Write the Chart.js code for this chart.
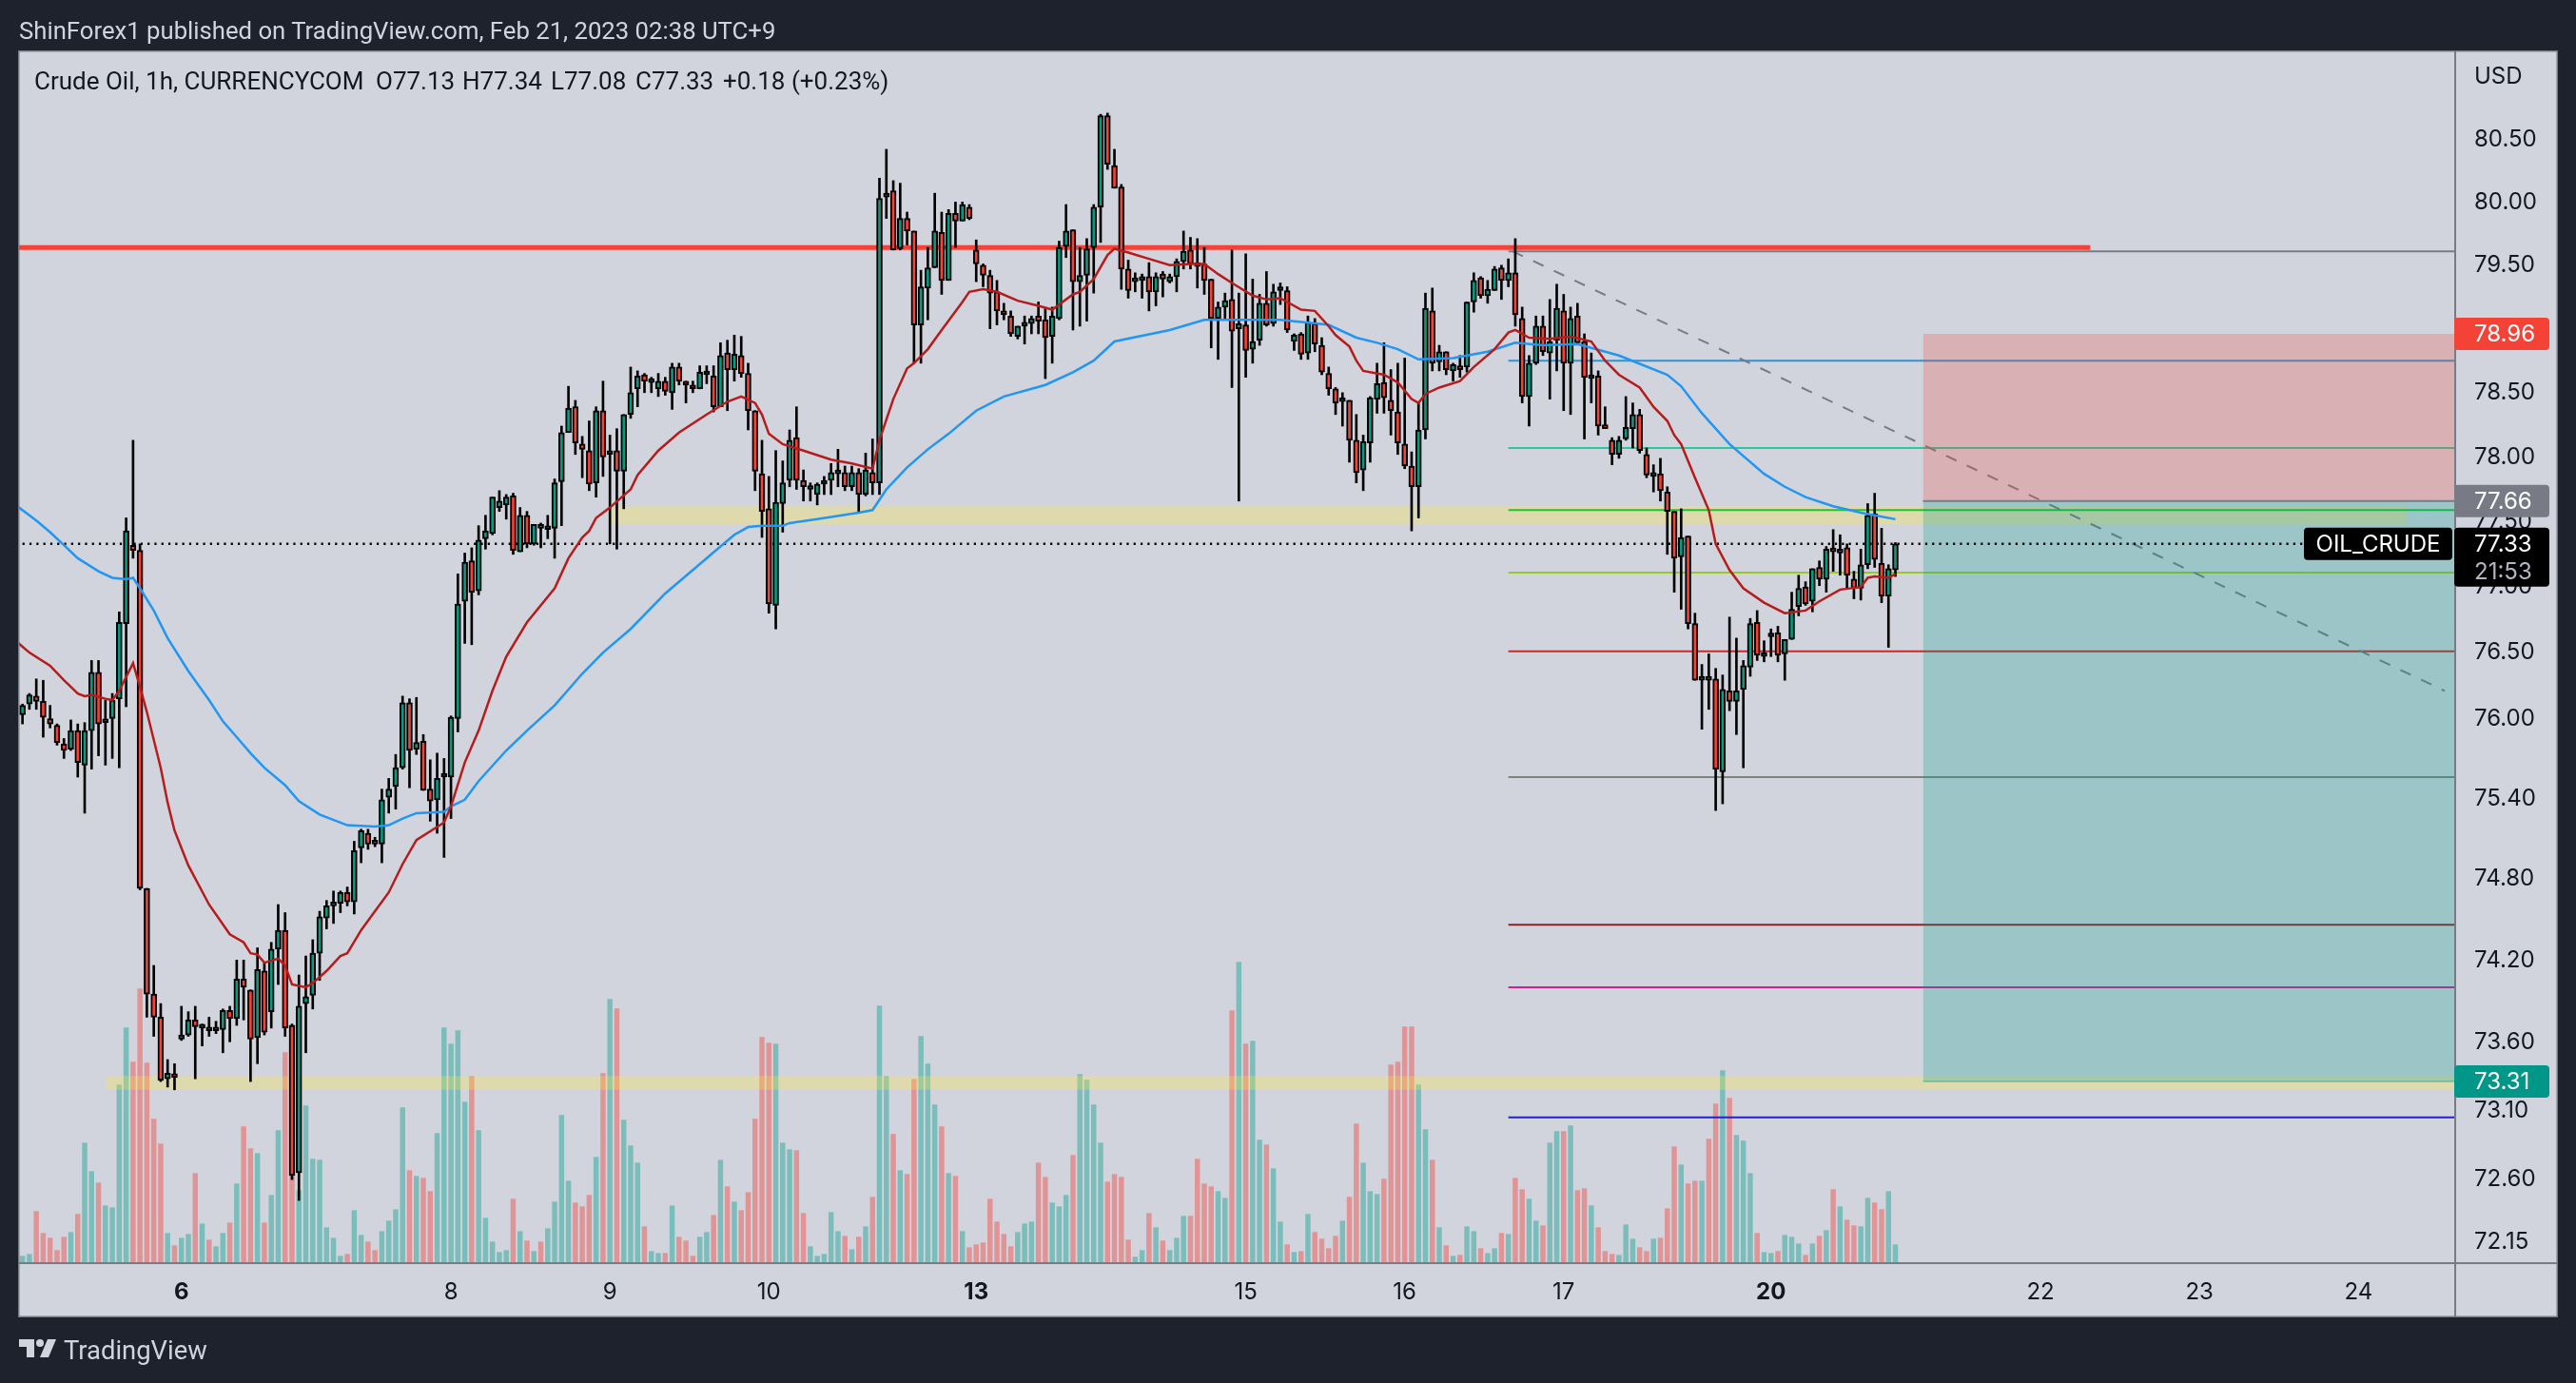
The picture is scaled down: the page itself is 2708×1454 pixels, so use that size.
<!DOCTYPE html>
<html>
<head>
<meta charset="utf-8">
<title>Crude Oil 1h</title>
<script src="https://cdn.jsdelivr.net/npm/chart.js@4"></script>
<style>
  html, body { margin: 0; padding: 0; background: #1E222D; overflow: hidden; }
  #wrap { position: relative; width: 2708px; height: 1454px; }
  canvas { position: absolute; left: 0; top: 0; }
  .txt { position: absolute; white-space: pre; font-family: Roboto, sans-serif; font-size: 26px; line-height: 30px; }
  .head { color: #D1D4DC; }
  .leg { color: #131722; z-index: 2; }
  #logo { position: absolute; left: 20px; top: 1408px; }
</style>
</head>
<body>
<div id="wrap">
  <canvas id="oilChart" width="2708" height="1454"></canvas>
  <div class="txt head" style="left:20px;top:17px;font-size:25.7px">ShinForex1 published on TradingView.com, Feb 21, 2023 02:38 UTC+9</div>
  <div class="txt leg" style="left:36px;top:70px">Crude Oil, 1h, CURRENCYCOM</div>
  <div class="txt leg" style="left:395px;top:70px">O77.13</div>
  <div class="txt leg" style="left:486px;top:70px">H77.34</div>
  <div class="txt leg" style="left:579px;top:70px">L77.08</div>
  <div class="txt leg" style="left:668px;top:70px">C77.33</div>
  <div class="txt leg" style="left:760px;top:70px">+0.18 (+0.23%)</div>
  <svg id="logo" width="40" height="20" viewBox="0 0 40 20"><path fill="#D1D4DC" d="M0 0h16v19h-8V8H0z"/><circle cx="22" cy="4" r="4" fill="#D1D4DC"/><path fill="#D1D4DC" d="M30 0h9l-8 19h-9z"/></svg>
  <div class="txt head" style="left:67px;top:1405px;font-size:27.4px">TradingView</div>
</div>

<script>
// hourly candles
const opens = [
  76.03,76.11,76.17,76.13,76.00,75.95,75.81,75.77,75.91,75.65,
  75.91,76.35,75.97,76.00,76.15,76.72,77.32,77.28,74.73,73.95,
  73.78,73.33,73.35,73.62,73.65,73.76,73.70,73.69,73.68,73.69,
  73.83,73.77,74.06,73.98,73.63,74.12,73.82,74.28,74.42,73.72,
  72.65,73.88,73.94,74.25,74.51,74.60,74.62,74.70,74.63,75.03,
  75.14,75.07,75.06,75.41,75.49,75.63,76.12,75.77,75.83,75.47,
  75.39,75.56,75.56,76.00,76.89,77.20,76.97,77.37,77.41,77.61,
  77.63,77.70,77.27,77.55,77.33,77.47,77.44,77.45,77.81,78.19,
  78.39,78.10,78.05,77.80,78.36,78.02,78.05,77.89,78.33,78.53,
  78.64,78.58,78.53,78.59,78.50,78.70,78.59,78.55,78.53,78.64,
  78.63,78.39,78.81,78.68,78.79,78.65,78.36,77.87,77.60,76.86,
  77.64,77.82,78.15,77.82,77.75,77.71,77.79,77.82,77.87,77.88,
  77.77,77.88,77.71,77.88,77.80,80.04,80.09,79.63,79.87,79.77,
  79.03,79.32,79.48,79.76,79.38,79.91,79.85,79.96,79.62,79.50,
  79.42,79.29,79.14,79.10,78.94,79.02,79.04,79.10,79.07,78.94,
  79.08,79.65,79.78,79.37,79.42,79.64,79.96,80.69,80.29,80.12,
  79.47,79.37,79.38,79.41,79.29,79.43,79.37,79.41,79.53,79.62,
  79.50,79.51,79.39,79.08,79.17,79.23,79.00,79.03,78.84,78.91,
  79.20,79.04,79.30,79.30,78.90,78.96,78.81,79.04,78.87,78.65,
  78.53,78.43,78.44,78.13,77.90,78.11,78.45,78.58,78.44,78.35,
  78.10,77.93,77.77,78.21,79.14,78.74,78.82,78.67,78.70,78.70,
  79.21,79.40,79.26,79.30,79.48,79.38,79.44,79.08,78.47,78.73,
  79.02,78.81,78.91,79.14,78.73,79.10,78.90,78.61,78.63,78.25,
  78.13,78.02,78.14,78.22,78.33,78.02,77.85,77.87,77.73,77.58,
  77.23,77.39,76.72,76.29,76.31,76.30,75.60,76.21,76.13,76.22,
  76.39,76.73,76.47,76.62,76.65,76.49,76.60,76.85,77.00,76.89,
  77.15,77.06,77.29,77.26,77.30,77.06,76.99,77.17,77.56,77.18,
  76.93,77.13
];
const highs = [
  76.11,76.19,76.30,76.29,76.10,75.96,75.85,75.99,75.96,75.97,
  76.44,76.44,76.14,76.19,76.81,77.53,78.13,77.33,74.73,74.16,
  73.88,73.47,73.44,73.86,73.82,73.86,73.73,73.78,73.75,73.84,
  73.86,74.20,74.20,73.98,74.29,74.18,74.33,74.61,74.55,73.73,
  74.09,74.23,74.35,74.56,74.64,74.71,74.71,74.74,75.08,75.17,
  75.17,75.11,75.47,75.55,75.73,76.17,76.15,76.16,75.88,75.69,
  75.74,75.70,76.02,77.10,77.26,77.30,77.47,77.55,77.69,77.74,
  77.71,77.72,77.61,77.58,77.48,77.49,77.55,77.83,78.24,78.55,
  78.44,78.16,78.28,78.39,78.59,78.17,78.22,78.33,78.70,78.67,
  78.65,78.62,78.65,78.62,78.73,78.73,78.59,78.59,78.71,78.71,
  78.71,78.89,78.91,78.95,78.94,78.73,78.36,78.13,77.85,78.05,
  77.97,78.21,78.39,77.90,77.80,77.80,77.85,77.95,78.06,77.93,
  77.93,77.91,78.03,78.14,80.19,80.42,80.17,80.15,79.92,79.77,
  79.46,79.64,80.07,79.92,79.94,80.00,80.00,79.98,79.70,79.51,
  79.46,79.38,79.20,79.14,79.02,79.10,79.10,79.21,79.16,79.17,
  79.69,79.98,79.78,79.64,79.71,79.98,80.70,80.71,80.42,80.14,
  79.54,79.44,79.43,79.52,79.44,79.45,79.43,79.55,79.77,79.72,
  79.71,79.64,79.39,79.21,79.28,79.62,79.28,79.59,79.39,79.27,
  79.45,79.35,79.36,79.33,78.96,78.97,79.10,79.08,78.93,78.70,
  78.54,78.50,78.44,78.33,78.17,78.47,78.73,78.89,78.68,78.73,
  78.77,78.04,78.42,79.28,79.32,78.87,78.82,78.73,78.79,79.21,
  79.44,79.41,79.38,79.49,79.50,79.55,79.71,79.17,78.79,79.10,
  79.10,79.23,79.35,79.27,79.17,79.20,78.96,78.81,78.67,78.39,
  78.15,78.16,78.47,78.42,78.37,78.07,77.94,77.99,77.77,77.58,
  77.60,77.39,76.80,76.41,76.49,76.38,76.33,76.77,76.61,76.44,
  76.76,76.82,76.59,76.68,76.70,76.60,76.96,77.09,77.04,77.14,
  77.20,77.31,77.44,77.40,77.33,77.12,77.29,77.64,77.72,77.45,
  77.17,77.34
];
const lows = [
  75.96,76.07,76.07,75.86,75.93,75.80,75.70,75.76,75.56,75.29,
  75.62,75.72,75.65,75.70,75.63,76.09,77.22,74.72,73.78,73.64,
  73.31,73.27,73.25,73.61,73.64,73.33,73.57,73.64,73.66,73.52,
  73.60,73.72,73.76,73.31,73.44,73.65,73.70,74.02,73.64,72.60,
  72.45,73.52,73.84,74.05,74.43,74.47,74.55,74.60,74.54,74.92,
  75.02,75.04,74.92,75.29,75.32,75.62,75.48,75.73,75.46,75.23,
  75.14,74.96,75.25,75.90,76.57,76.56,76.94,77.29,77.40,77.58,
  77.52,77.25,77.27,77.30,77.32,77.30,77.37,77.22,77.47,78.19,
  78.02,77.84,77.74,77.69,77.85,77.33,77.29,77.60,78.30,78.39,
  78.50,78.50,78.47,78.48,78.37,78.56,78.42,78.50,78.53,78.57,
  78.35,78.39,78.36,78.59,78.62,78.21,77.74,77.38,76.80,76.68,
  77.42,77.77,77.75,77.66,77.66,77.63,77.71,77.71,77.77,77.74,
  77.74,77.58,77.70,77.71,77.71,79.87,79.62,79.62,79.66,78.73,
  78.73,79.07,79.48,79.27,79.38,79.64,79.85,79.86,79.37,79.33,
  79.00,79.03,79.07,78.94,78.92,78.88,78.96,78.96,78.61,78.73,
  79.07,79.56,78.99,79.02,79.06,79.28,79.68,80.26,80.11,79.31,
  79.24,79.29,79.24,79.14,79.18,79.25,79.36,79.29,79.47,79.47,
  79.32,79.27,78.85,78.76,79.08,78.54,77.66,78.62,78.73,78.87,
  79.02,79.02,79.19,78.97,78.83,78.76,78.76,78.82,78.64,78.48,
  78.33,78.24,77.96,77.80,77.74,77.96,78.34,78.34,78.17,78.02,
  77.91,77.43,77.53,78.14,78.67,78.67,78.64,78.59,78.62,78.66,
  79.13,79.24,79.20,79.30,79.23,79.33,79.02,78.42,78.24,78.72,
  78.79,78.45,78.67,78.36,78.33,78.88,78.14,78.42,78.17,78.22,
  77.94,77.99,78.13,78.07,78.03,77.84,77.73,77.66,77.25,76.96,
  76.83,76.68,76.29,75.92,76.07,75.31,75.36,76.06,75.88,75.63,
  76.32,76.44,76.43,76.47,76.43,76.29,76.60,76.78,76.86,76.81,
  77.01,76.96,77.12,77.09,76.99,76.91,76.90,77.14,77.15,76.88,
  76.54,77.08
];
const closes = [
  76.10,76.18,76.13,76.01,75.96,75.82,75.76,75.91,75.67,75.91,
  76.35,75.96,75.98,76.14,76.73,77.43,77.28,74.73,73.95,73.78,
  73.32,73.37,73.34,73.65,73.76,73.71,73.71,73.68,73.69,73.83,
  73.77,74.06,74.00,73.62,74.13,73.67,74.28,74.42,73.70,72.63,
  73.86,73.93,74.25,74.52,74.60,74.61,74.70,74.63,75.01,75.16,
  75.06,75.06,75.39,75.47,75.63,76.12,75.76,75.82,75.46,75.38,
  75.55,75.57,76.01,76.87,77.19,76.96,77.36,77.43,77.69,77.66,
  77.69,77.28,77.55,77.33,77.48,77.45,77.46,77.80,78.19,78.38,
  78.11,78.06,77.79,78.36,78.00,78.05,77.89,78.33,78.50,78.63,
  78.59,78.59,78.59,78.51,78.70,78.59,78.56,78.53,78.66,78.65,
  78.39,78.79,78.68,78.80,78.65,78.36,77.89,77.58,76.87,77.65,
  77.80,78.13,77.82,77.77,77.77,77.79,77.82,77.88,77.90,77.77,
  77.88,77.71,77.90,77.80,80.03,80.07,79.62,79.87,79.77,79.03,
  79.33,79.48,79.77,79.38,79.91,79.85,79.98,79.87,79.51,79.42,
  79.28,79.14,79.11,78.96,79.02,79.03,79.08,79.06,78.93,79.10,
  79.64,79.77,79.37,79.42,79.63,79.96,80.69,80.30,80.11,79.47,
  79.30,79.38,79.41,79.29,79.41,79.39,79.41,79.53,79.61,79.51,
  79.49,79.38,79.08,79.17,79.22,78.98,79.04,78.83,78.90,79.20,
  79.03,79.29,79.31,78.99,78.95,78.80,79.05,78.88,78.66,78.53,
  78.42,78.44,78.13,77.88,78.12,78.46,78.57,78.46,78.36,78.11,
  77.93,77.77,78.21,79.16,78.73,78.82,78.68,78.72,78.68,79.21,
  79.38,79.26,79.31,79.47,79.38,79.44,79.11,78.47,78.73,79.02,
  78.82,78.90,79.16,78.73,79.08,78.89,78.62,78.64,78.24,78.22,
  78.02,78.13,78.23,78.33,78.05,77.86,77.87,77.74,77.58,77.22,
  77.38,76.72,76.29,76.32,76.29,75.62,76.22,76.13,76.21,76.40,
  76.72,76.48,76.48,76.64,76.48,76.60,76.83,76.99,76.87,77.14,
  77.06,77.29,77.27,77.29,77.09,76.99,77.17,77.55,77.21,76.93,
  77.14,77.33
];
// relative volume, the scale is not shown in the picture
const volumes = [
  23,29,164,95,80,41,83,98,155,380,
  290,254,182,176,563,743,635,866,632,455,
  377,95,56,80,92,284,125,74,53,95,
  128,251,431,362,347,128,215,419,665,752,
  230,497,329,326,113,80,23,29,167,89,
  68,41,101,134,170,491,293,275,269,227,
  410,743,692,734,509,590,419,143,68,35,
  41,203,101,71,38,68,110,194,467,260,
  191,179,215,335,599,833,803,452,371,317,
  116,38,32,32,182,83,71,23,83,98,
  152,326,242,194,167,224,455,713,695,692,
  380,359,356,158,53,23,29,161,101,86,
  44,83,116,209,812,590,407,293,281,581,
  716,629,500,431,284,275,101,50,59,65,
  203,131,92,53,98,125,131,317,272,191,
  179,215,341,596,578,500,380,257,281,272,
  74,20,41,158,113,71,41,80,149,149,
  329,251,242,227,206,797,950,692,701,389,
  374,299,131,59,35,38,155,98,77,47,
  86,134,209,440,317,227,218,266,626,635,
  746,746,563,422,326,113,56,23,26,116,
  101,47,32,47,95,92,269,233,203,134,
  119,380,416,416,434,230,236,182,113,38,
  29,26,122,77,50,38,77,80,173,368,
  311,251,260,260,392,503,608,521,404,386,
  284,95,35,32,38,89,83,62,26,62,
  86,104,233,179,137,119,116,206,191,170,
  227,59
];

// moving averages, read at the bars where they bend
const fastEmaBars = [-1,1,4,6,7,8,9,10,12,13,14,16,17,18,20,21,22,24,27,30,32,33,34,35,37,38,39,41,42,44,46,47,49,51,53,55,57,61,62,64,66,68,70,73,77,79,81,82,83,85,88,89,92,95,99,102,104,106,107,108,110,113,117,120,123,124,125,126,128,129,131,133,136,137,139,141,144,147,149,152,153,155,157,158,160,163,166,169,171,173,175,178,180,182,185,187,189,190,192,193,194,197,199,201,202,203,205,208,210,213,215,216,218,221,224,227,229,231,234,236,238,239,240,242,244,245,247,249,252,255,258,260,263,266,267,268,270,271];
const fastEma = [76.59,76.50,76.40,76.29,76.24,76.19,76.17,76.18,76.15,76.14,76.21,76.42,76.24,76.05,75.63,75.37,75.16,74.90,74.61,74.39,74.33,74.25,74.24,74.18,74.21,74.16,74.02,74.00,74.03,74.12,74.23,74.25,74.42,74.56,74.70,74.91,75.09,75.22,75.34,75.67,75.91,76.21,76.47,76.73,76.99,77.22,77.38,77.43,77.53,77.61,77.75,77.86,78.05,78.19,78.33,78.43,78.47,78.42,78.33,78.18,78.10,78.05,77.98,77.95,77.91,78.13,78.29,78.45,78.69,78.73,78.84,78.99,79.21,79.29,79.31,79.29,79.22,79.18,79.15,79.27,79.29,79.39,79.58,79.63,79.60,79.55,79.50,79.51,79.51,79.43,79.36,79.26,79.23,79.24,79.15,79.14,79.02,78.95,78.86,78.75,78.67,78.64,78.58,78.45,78.42,78.49,78.54,78.59,78.70,78.84,78.97,78.99,78.93,78.92,78.94,78.90,78.75,78.64,78.54,78.39,78.28,78.17,78.10,77.84,77.59,77.33,77.13,76.99,76.88,76.80,76.82,76.89,76.98,77.00,77.07,77.08,77.07,77.10];
const slowEmaBars = [-1,2,4,6,8,11,13,15,16,17,19,21,24,27,29,31,33,35,38,40,43,47,51,53,55,57,61,62,64,66,70,73,77,81,84,88,93,97,101,103,105,107,109,110,111,115,121,123,125,128,131,134,138,142,148,152,155,158,166,171,176,182,189,193,196,199,202,207,212,216,220,225,231,238,240,243,247,252,255,258,262,266,271];
const slowEma = [77.63,77.51,77.42,77.32,77.22,77.12,77.07,77.06,77.07,76.99,76.82,76.61,76.36,76.14,75.98,75.86,75.74,75.63,75.50,75.38,75.28,75.20,75.19,75.20,75.25,75.29,75.30,75.34,75.39,75.53,75.76,75.91,76.10,76.34,76.50,76.68,76.95,77.13,77.31,77.40,77.46,77.47,77.47,77.47,77.49,77.52,77.57,77.59,77.75,77.92,78.06,78.18,78.36,78.47,78.56,78.66,78.75,78.90,78.99,79.07,79.07,79.07,79.03,78.93,78.89,78.84,78.76,78.77,78.82,78.89,78.87,78.88,78.79,78.64,78.55,78.34,78.10,77.87,77.77,77.69,77.62,77.57,77.52];

// drawn levels
const levelPrices = [78.75, 78.07, 77.59, 77.11, 76.51, 75.56, 74.46, 74.00, 73.05];
const levelColors = ['#2A96D4', '#2CC79A', '#22C32E', '#96C928', '#C92A2A', '#808080', '#8A2424', '#CC2296', '#2222CC'];
const resistance = 79.64;
const resistanceGray = 79.61;
const trendBars = [215.6, 350.5];
const trendPrices = [79.61, 76.21];
const bandUpper = [77.62, 77.48];
const bandLower = [73.35, 73.25];
const stopPrice = 78.96, entryPrice = 77.66, targetPrice = 73.31, lastPrice = 77.33;

// axis labels
const priceTicks = [80.5, 80, 79.5, 79, 78.5, 78, 77.5, 77, 76.5, 76, 75.4, 74.8, 74.2, 73.6, 73.1, 72.6, 72.15];
const dayBars = [23, 62, 85, 108, 138, 177, 200, 223, 253, 292, 315, 338];
const dayLabels = ['6', '8', '9', '10', '13', '15', '16', '17', '20', '22', '23', '24'];
const boldDays = ['6', '13', '20'];

const FIRST_BAR = -1, LAST_BAR = 352, LEVEL_START = 215, BOX_START = 275;
const UP = '#089981', DOWN = '#F44336';
const bars = opens.map((o, i) => i);
const isUp = opens.map((o, i) => closes[i] >= o);

function hLine(price, from, to, color, width, order) {
  return { type: 'line', data: [{ x: from, y: price }, { x: to, y: price }], borderColor: color, borderWidth: width, pointRadius: 0, order: order };
}
function zone(top, bottom, from, to, color, order) {
  return {
    type: 'line', data: [{ x: from, y: top }, { x: to, y: top }], borderWidth: 0, pointRadius: 0,
    fill: { value: bottom }, backgroundColor: color, order: order
  };
}

const datasets = [
  {
    type: 'bar', yAxisID: 'vol', order: 70, grouped: false, categoryPercentage: 1, barPercentage: 0.75,
    data: bars.map(i => ({ x: i, y: volumes[i] })),
    backgroundColor: bars.map(i => isUp[i] ? 'rgba(38,166,154,0.5)' : 'rgba(239,83,80,0.5)')
  },
  zone(bandUpper[0], bandUpper[1], 85, 345, 'rgba(255,235,59,0.28)', 60),
  zone(bandLower[0], bandLower[1], 12, LAST_BAR, 'rgba(255,235,59,0.28)', 60),
  hLine(resistance, FIRST_BAR, 299.2, '#F44336', 5, 49),
  hLine(resistanceGray, LEVEL_START, LAST_BAR, '#787B86', 2, 50),
  {
    type: 'line', data: trendBars.map((b, k) => ({ x: b, y: trendPrices[k] })), borderColor: '#787B86',
    borderWidth: 2, borderDash: [12, 12], pointRadius: 0, order: 50
  },
  ...levelPrices.map((p, k) => hLine(p, LEVEL_START, LAST_BAR, levelColors[k], 2, 50)),
  zone(stopPrice, entryPrice, BOX_START, LAST_BAR, 'rgba(244,67,54,0.25)', 40),
  zone(entryPrice, targetPrice, BOX_START, LAST_BAR, 'rgba(0,150,136,0.25)', 40),
  hLine(entryPrice, BOX_START, LAST_BAR, '#787B86', 2, 39),
  hLine(targetPrice, BOX_START, LAST_BAR, 'rgba(0,150,136,0.3)', 2, 39),
  {
    type: 'line', data: [{ x: FIRST_BAR, y: lastPrice }, { x: 330, y: lastPrice }], borderColor: '#000000',
    borderWidth: 2.5, borderDash: [2.2, 5.1], pointRadius: 0, order: 35
  },
  {
    type: 'bar', order: 30, grouped: false, categoryPercentage: 1, barPercentage: 1, maxBarThickness: 2,
    data: bars.map(i => ({ x: i, y: [lows[i], highs[i]] })), backgroundColor: '#000000'
  },
  {
    type: 'bar', order: 20, grouped: false, categoryPercentage: 1, barPercentage: 1, maxBarThickness: 6,
    minBarLength: 4, borderWidth: 2, borderSkipped: false, borderColor: '#000000',
    data: bars.map(i => ({ x: i, y: [opens[i], closes[i]] })),
    backgroundColor: bars.map(i => isUp[i] ? UP : DOWN)
  },
  {
    type: 'line', order: 10, data: slowEmaBars.map((b, k) => ({ x: b, y: slowEma[k] })),
    borderColor: '#2196F3', borderWidth: 2.5, pointRadius: 0
  },
  {
    type: 'line', order: 9, data: fastEmaBars.map((b, k) => ({ x: b, y: fastEma[k] })),
    borderColor: '#B71C1C', borderWidth: 2.5, pointRadius: 0
  }
];

// panel background, frame and the price tags on the axis
const panelPlugin = {
  id: 'panel',
  beforeDraw(chart) {
    const { ctx } = chart;
    ctx.save();
    ctx.fillStyle = '#D1D4DC';
    ctx.fillRect(20, 54, 2668, 1330);
    ctx.restore();
  },
  afterDraw(chart) {
    const { ctx, chartArea: a, scales } = chart;
    const y = scales.y;
    ctx.save();
    ctx.fillStyle = '#787B86';
    ctx.fillRect(19, 53, 2670, 1.5);
    ctx.fillRect(19, 53, 1.5, 1332);
    ctx.fillRect(2687.5, 53, 1.5, 1332);
    ctx.fillRect(19, 1383.5, 2670, 1.5);
    ctx.fillRect(a.left, a.bottom - 1, 2668, 2);
    ctx.fillRect(a.right - 1, 54, 2, 1330);

    ctx.font = '24px Inter, sans-serif';
    ctx.textBaseline = 'middle';
    ctx.fillStyle = '#131722';
    ctx.textAlign = 'left';
    ctx.fillText('USD', 2601, 81);

    const tag = (x, top, w, h, bg) => {
      ctx.fillStyle = bg;
      ctx.beginPath();
      ctx.roundRect(x, top, w, h, 4);
      ctx.fill();
    };
    const price = (value, bg, color) => {
      const py = y.getPixelForValue(value);
      tag(2580, py - 17, 100, 34, bg);
      ctx.fillStyle = color;
      ctx.textAlign = 'left';
      ctx.fillText(value.toFixed(2), 2601, py + 1);
    };
    price(stopPrice, '#F44336', '#FFFFFF');
    price(entryPrice, '#787B86', '#FFFFFF');
    price(targetPrice, '#009688', '#FFFFFF');

    const ly = y.getPixelForValue(lastPrice);
    tag(2580, ly - 17, 100, 62, '#000000');
    ctx.fillStyle = '#FFFFFF';
    ctx.fillText(lastPrice.toFixed(2), 2601, ly + 1);
    ctx.fillStyle = '#B2B5BE';
    ctx.fillText('21:53', 2601, ly + 30);
    tag(2422, ly - 17, 156, 34, '#000000');
    ctx.fillStyle = '#FFFFFF';
    ctx.textAlign = 'center';
    ctx.fillText('OIL_CRUDE', 2500, ly + 1);
    ctx.restore();
  }
};

new Chart(document.getElementById('oilChart'), {
  data: { datasets },
  plugins: [panelPlugin],
  options: {
    responsive: false,
    animation: false,
    events: [],
    layout: { padding: { left: 20, top: 54, right: 20, bottom: 70 } },
    plugins: { legend: { display: false }, tooltip: { enabled: false } },
    scales: {
      x: {
        type: 'linear', min: -0.5, max: LAST_BAR, offset: false,
        grid: { display: false, drawTicks: false }, border: { display: false },
        afterBuildTicks: s => { s.ticks = dayBars.map(v => ({ value: v })); },
        afterFit: s => { s.height = 56; },
        ticks: {
          autoSkip: false, maxRotation: 0, padding: 16, color: '#131722',
          font: c => ({ family: 'Inter, sans-serif', size: 24, weight: c.tick && boldDays.includes(c.tick.label) ? '700' : '400' }),
          callback: v => dayLabels[dayBars.indexOf(v)]
        }
      },
      y: {
        type: 'logarithmic', position: 'right', min: 72.0, max: 81.206,
        grid: { display: false, drawTicks: false }, border: { display: false },
        afterBuildTicks: s => { s.ticks = priceTicks.map(v => ({ value: v })); },
        afterFit: s => { s.width = 107; },
        ticks: {
          autoSkip: false, padding: 20, color: '#131722', crossAlign: 'near',
          font: { family: 'Inter, sans-serif', size: 24 },
          callback: v => v.toFixed(2)
        }
      },
      vol: { type: 'linear', display: false, min: 0, max: 3822 }
    }
  }
});
</script>
</body>
</html>
